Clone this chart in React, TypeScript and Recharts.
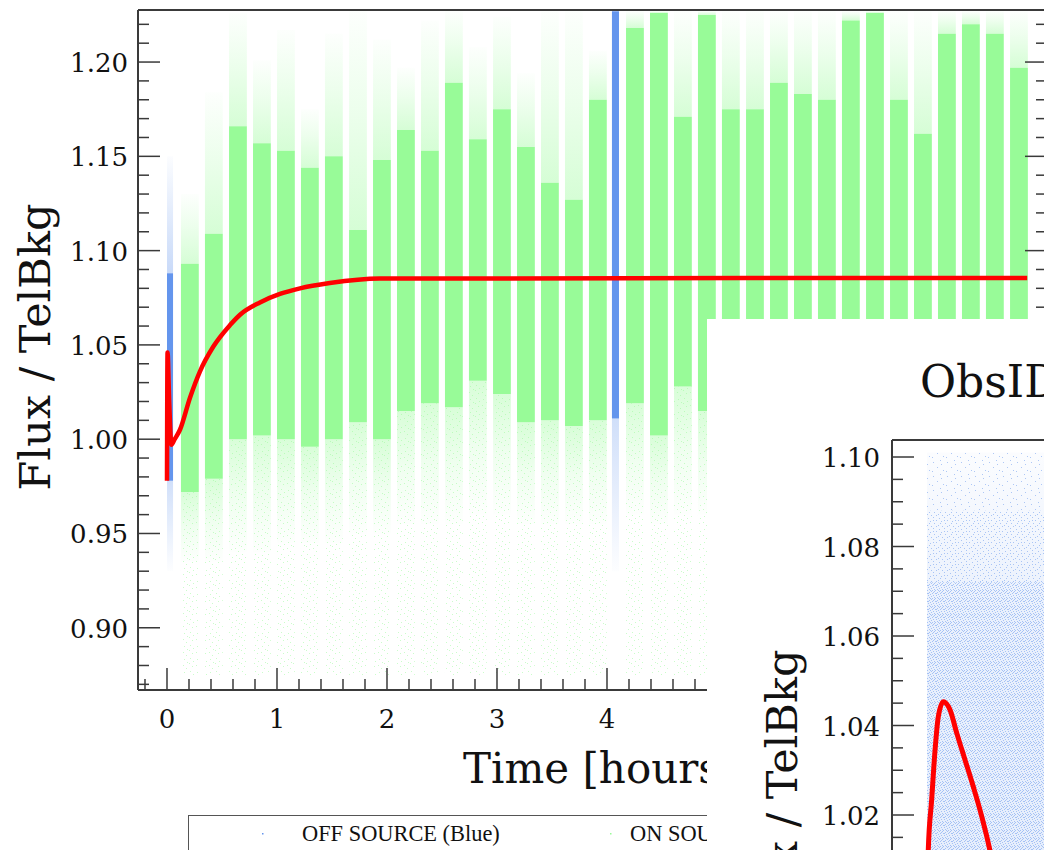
import React from 'react';
import { ComposedChart, XAxis, YAxis, Line, ReferenceArea } from 'recharts';

// ON SOURCE segments (green), start time in hours
const onStart = [0.127, 0.345, 0.564, 0.782, 1.0, 1.218, 1.436, 1.655, 1.873, 2.091, 2.309, 2.527, 2.745, 2.964, 3.182, 3.4, 3.618, 3.836,
  4.173, 4.391, 4.609, 4.827, 5.045, 5.264, 5.482, 5.7, 5.918, 6.136, 6.355, 6.573, 6.791, 7.009, 7.227, 7.445, 7.664];
const onLength = 0.162;
// dense part of each segment
const onCoreTop = [1.093, 1.109, 1.166, 1.157, 1.153, 1.144, 1.15, 1.111, 1.148, 1.164, 1.153, 1.189, 1.159, 1.175, 1.155, 1.136, 1.127, 1.18,
  1.218, 1.226, 1.171, 1.225, 1.175, 1.175, 1.189, 1.183, 1.18, 1.222, 1.226, 1.18, 1.162, 1.215, 1.22, 1.215, 1.197];
const onCoreBottom = [0.972, 0.979, 1.0, 1.002, 1.0, 0.996, 1.0, 1.009, 1.0, 1.015, 1.019, 1.017, 1.031, 1.024, 1.009, 1.01, 1.007, 1.01,
  1.019, 1.002, 1.028, 1.015, 1.02, 1.02, 1.02, 1.02, 1.02, 1.02, 1.02, 1.02, 1.02, 1.02, 1.02, 1.02, 1.02];
// where the scattered points thin out
const onFringeTop = [1.13, 1.184, 1.226, 1.201, 1.217, 1.175, 1.215, 1.227, 1.212, 1.197, 1.222, 1.227, 1.208, 1.224, 1.194, 1.227, 1.227, 1.206,
  1.227, 1.227, 1.227, 1.227, 1.227, 1.227, 1.227, 1.227, 1.227, 1.227, 1.227, 1.227, 1.227, 1.227, 1.227, 1.227, 1.227];
const onFringeBottom = [0.935, 0.935, 0.94, 0.94, 0.945, 0.945, 0.945, 0.95, 0.95, 0.955, 0.955, 0.955, 0.96, 0.96, 0.955, 0.955, 0.955, 0.955,
  0.96, 0.955, 0.96, 0.96, 0.96, 0.96, 0.96, 0.96, 0.96, 0.96, 0.96, 0.96, 0.96, 0.96, 0.96, 0.96, 0.96];
// lowest stray points
const onSparseBottom = 0.875;

// OFF SOURCE segments (blue)
const offStart = [0.0, 4.045];
const offEnd = [0.055, 4.109];
const offCoreTop = [1.088, 1.227];
const offCoreBottom = [0.978, 1.011];
const offFringeTop = [1.15, 1.227];
const offFringeBottom = [0.93, 0.93];

// fitted model, main panel
const fitTime = [0, 0.005, 0.02, 0.04, 0.07, 0.118, 0.209, 0.3, 0.42, 0.573, 0.664, 0.845, 1.027, 1.209, 1.48, 1.936, 7.82];
const fitValue = [0.978, 1.046, 1.02, 0.997, 1.0, 1.005, 1.022, 1.036, 1.049, 1.0605, 1.066, 1.0725, 1.077, 1.08, 1.0828, 1.0852, 1.0855];

// inset (first OFF SOURCE block, zoomed)
const insetTime = [0.0, 0.011, 0.04, 0.069, 0.097, 0.14, 0.197, 0.255, 0.326, 0.397, 0.47, 0.535, 0.57];
const insetValue = [1.0, 1.0122, 1.0234, 1.0345, 1.042, 1.0453, 1.0435, 1.0383, 1.0323, 1.0263, 1.0196, 1.0126, 1.008];
const insetScatter = { t0: 0.0, t1: 1.2, top: 1.101, upper: 1.088, mid: 1.072, bottom: 0.98 };

// ticks
const mainXMajor = [0, 1, 2, 3, 4, 5, 6, 7, 8];
const mainYMajor = [0.9, 0.95, 1.0, 1.05, 1.1, 1.15, 1.2];
const insetXMajor = [0, 1];
const insetYMajor = [0.98, 1.0, 1.02, 1.04, 1.06, 1.08, 1.1];

const GREEN = '#98FB98';
const BLUE = '#6495ED';
const AXIS = '#3a3a3a';
const FONT = '"DejaVu Serif", serif';
const LEGEND_FONT = '"Liberation Serif", serif';

// speckle tiles (pixel positions inside a tile)
const denseDots = [[0, 0], [3, 0], [6, 1], [1, 2], [4, 2], [7, 3], [2, 4], [5, 4], [0, 5], [3, 6], [6, 6], [1, 7], [4, 7], [7, 7], [5, 2], [2, 1]];
const mediumDots = [[1, 1], [6, 0], [9, 3], [3, 4], [7, 6], [0, 8], [4, 9], [9, 9], [2, 6], [6, 3]];
const sparseDots = [[2, 3], [9, 1], [6, 8], [12, 11], [1, 12], [10, 5]];
const greenDots = [[1, 2], [7, 0], [4, 5], [10, 3], [2, 9], [8, 8], [11, 11], [5, 12]];

function steps(from: number, to: number, step: number) {
  const out: number[] = [];
  const n = Math.round((to - from) / step);
  for (let i = 0; i <= n; i++) out.push(+(from + i * step).toFixed(4));
  return out;
}

const isIn = (v: number, arr: number[]) => arr.some((a) => Math.abs(a - v) < 1e-6);

function makeTick(side: string, majors: number[], showLabels: boolean, fmt: (v: number) => string, gap: number) {
  return (props: any) => {
    const { x, y, payload } = props;
    const major = isIn(payload.value, majors);
    const len = major ? 22 : 11;
    let line;
    let label = null;
    if (side === 'bottom') {
      line = <line x1={x} y1={y} x2={x} y2={y - len} stroke={AXIS} strokeWidth={1.5} />;
      if (major && showLabels)
        label = <text x={x} y={y + gap} textAnchor="middle" dominantBaseline="central" fontSize={26} fontFamily={FONT} fill="#111">{fmt(payload.value)}</text>;
    } else if (side === 'top') {
      line = <line x1={x} y1={y} x2={x} y2={y + len} stroke={AXIS} strokeWidth={1.5} />;
    } else if (side === 'left') {
      line = <line x1={x} y1={y} x2={x + len} y2={y} stroke={AXIS} strokeWidth={1.5} />;
      if (major && showLabels)
        label = <text x={x - gap} y={y + 1} textAnchor="end" dominantBaseline="central" fontSize={26} fontFamily={FONT} fill="#111">{fmt(payload.value)}</text>;
    } else {
      line = <line x1={x} y1={y} x2={x - len} y2={y} stroke={AXIS} strokeWidth={1.5} />;
    }
    return <g>{line}{label}</g>;
  };
}

const mainXTicks = steps(-0.2, 8.0, 0.2);
const mainYTicks = steps(0.87, 1.22, 0.01);
const insetXTicks = steps(-0.2, 1.2, 0.2);
const insetYTicks = steps(0.98, 1.1, 0.005);

const MAIN_X_DOMAIN: [number, number] = [-0.2636, 8.0];
const MAIN_Y_DOMAIN: [number, number] = [0.867, 1.2276];
const INSET_X_DOMAIN: [number, number] = [-0.3, 1.2];
const INSET_Y_DOMAIN: [number, number] = [0.98, 1.1038];

function DotPattern({ id, size, dots, color }: { id: string; size: number; dots: number[][]; color: string }) {
  return (
    <pattern id={id} width={size} height={size} patternUnits="userSpaceOnUse">
      {dots.map(([x, y], i) => <rect key={i} x={x} y={y} width={1} height={1} fill={color} shapeRendering="crispEdges" />)}
    </pattern>
  );
}

function Defs() {
  return (
    <svg width={0} height={0} style={{ position: 'absolute' }}>
      <defs>
        <linearGradient id="gUp" x1="0" y1="1" x2="0" y2="0">
          <stop offset="0" stopColor={GREEN} stopOpacity={0.8} />
          <stop offset="0.55" stopColor={GREEN} stopOpacity={0.35} />
          <stop offset="1" stopColor={GREEN} stopOpacity={0.04} />
        </linearGradient>
        <linearGradient id="gDown" x1="0" y1="0" x2="0" y2="1">
          <stop offset="0" stopColor={GREEN} stopOpacity={0.75} />
          <stop offset="0.5" stopColor={GREEN} stopOpacity={0.3} />
          <stop offset="1" stopColor={GREEN} stopOpacity={0.03} />
        </linearGradient>
        <linearGradient id="bUp" x1="0" y1="1" x2="0" y2="0">
          <stop offset="0" stopColor={BLUE} stopOpacity={0.7} />
          <stop offset="1" stopColor={BLUE} stopOpacity={0.05} />
        </linearGradient>
        <linearGradient id="bDown" x1="0" y1="0" x2="0" y2="1">
          <stop offset="0" stopColor={BLUE} stopOpacity={0.6} />
          <stop offset="1" stopColor={BLUE} stopOpacity={0.03} />
        </linearGradient>
        <linearGradient id="insetBlue" x1="0" y1="0" x2="0" y2="1">
          <stop offset="0" stopColor={BLUE} stopOpacity={0.05} />
          <stop offset="0.12" stopColor={BLUE} stopOpacity={0.15} />
          <stop offset="0.3" stopColor={BLUE} stopOpacity={0.28} />
          <stop offset="1" stopColor={BLUE} stopOpacity={0.34} />
        </linearGradient>
        <DotPattern id="blueDense" size={8} dots={denseDots} color={BLUE} />
        <DotPattern id="blueMedium" size={11} dots={mediumDots} color={BLUE} />
        <DotPattern id="blueSparse" size={14} dots={sparseDots} color={BLUE} />
        <DotPattern id="greenSparse" size={13} dots={greenDots} color={GREEN} />
      </defs>
    </svg>
  );
}

function MainChart() {
  const fit = fitTime.map((t, i) => ({ t, v: fitValue[i] }));
  const ref = { xAxisId: 'b', yAxisId: 'l', ifOverflow: 'hidden' as const, stroke: 'none' };
  return (
    <ComposedChart width={1100} height={760} margin={{ top: 0, right: 33, bottom: 0, left: 0 }}>
      <XAxis xAxisId="b" dataKey="t" type="number" domain={MAIN_X_DOMAIN} allowDataOverflow ticks={mainXTicks} interval={0}
        height={70} tickSize={0} tickMargin={0} tickLine={false} axisLine={{ stroke: AXIS, strokeWidth: 2 }}
        tick={makeTick('bottom', mainXMajor, true, (v) => String(v), 29)} />
      <XAxis xAxisId="t" orientation="top" type="number" domain={MAIN_X_DOMAIN} allowDataOverflow ticks={mainXTicks} interval={0}
        height={10} tickSize={0} tickMargin={0} tickLine={false} axisLine={{ stroke: AXIS, strokeWidth: 2 }}
        tick={makeTick('top', mainXMajor, false, String, 0)} />
      <YAxis yAxisId="l" type="number" domain={MAIN_Y_DOMAIN} allowDataOverflow ticks={mainYTicks} interval={0}
        width={138} tickSize={0} tickMargin={0} tickLine={false} axisLine={{ stroke: AXIS, strokeWidth: 2 }}
        tick={makeTick('left', mainYMajor, true, (v) => v.toFixed(2), 10)} />
      <YAxis yAxisId="r" orientation="right" type="number" domain={MAIN_Y_DOMAIN} allowDataOverflow ticks={mainYTicks} interval={0}
        width={20} tickSize={0} tickMargin={0} tickLine={false} axisLine={{ stroke: AXIS, strokeWidth: 2 }}
        tick={makeTick('right', mainYMajor, false, String, 0)} />

      {onStart.map((s, i) => (
        <ReferenceArea key={'os' + i} {...ref} x1={s} x2={s + onLength} y1={onSparseBottom} y2={onCoreBottom[i]} fill="url(#greenSparse)" />
      ))}
      {onStart.map((s, i) => (
        <ReferenceArea key={'oc' + i} {...ref} x1={s} x2={s + onLength} y1={onCoreBottom[i]} y2={onCoreTop[i]} fill={GREEN} fillOpacity={1} />
      ))}
      {onStart.map((s, i) => onFringeTop[i] > onCoreTop[i] ? (
        <ReferenceArea key={'ou' + i} {...ref} x1={s} x2={s + onLength} y1={onCoreTop[i]} y2={onFringeTop[i]} fill="url(#gUp)" />
      ) : null)}
      {onStart.map((s, i) => (
        <ReferenceArea key={'od' + i} {...ref} x1={s} x2={s + onLength} y1={onFringeBottom[i]} y2={onCoreBottom[i]} fill="url(#gDown)" />
      ))}
      {offStart.map((s, i) => (
        <ReferenceArea key={'fc' + i} {...ref} x1={s} x2={offEnd[i]} y1={offCoreBottom[i]} y2={offCoreTop[i]} fill={BLUE} fillOpacity={1} />
      ))}
      {offStart.map((s, i) => offFringeTop[i] > offCoreTop[i] ? (
        <ReferenceArea key={'fu' + i} {...ref} x1={s} x2={offEnd[i]} y1={offCoreTop[i]} y2={offFringeTop[i]} fill="url(#bUp)" />
      ) : null)}
      {offStart.map((s, i) => (
        <ReferenceArea key={'fd' + i} {...ref} x1={s} x2={offEnd[i]} y1={offFringeBottom[i]} y2={offCoreBottom[i]} fill="url(#bDown)" />
      ))}

      <Line xAxisId="b" yAxisId="l" data={fit} dataKey="v" type="monotone" stroke="#ff0000" strokeWidth={4.5}
        dot={false} activeDot={false} isAnimationActive={false} strokeLinejoin="round" />
    </ComposedChart>
  );
}

function InsetChart() {
  const fit = insetTime.map((t, i) => ({ t, v: insetValue[i] }));
  const ref = { xAxisId: 'b', yAxisId: 'l', ifOverflow: 'hidden' as const, stroke: 'none' };
  const s = insetScatter;
  return (
    <ComposedChart width={390} height={705} margin={{ top: 111, right: 10, bottom: 0, left: 0 }}>
      <XAxis xAxisId="b" dataKey="t" type="number" domain={INSET_X_DOMAIN} allowDataOverflow ticks={insetXTicks} interval={0}
        height={30} tickSize={0} tickMargin={0} tickLine={false} axisLine={{ stroke: AXIS, strokeWidth: 2 }}
        tick={makeTick('bottom', insetXMajor, false, String, 29)} />
      <XAxis xAxisId="t" orientation="top" type="number" domain={INSET_X_DOMAIN} allowDataOverflow ticks={insetXTicks} interval={0}
        height={10} tickSize={0} tickMargin={0} tickLine={false} axisLine={{ stroke: AXIS, strokeWidth: 2 }}
        tick={makeTick('top', insetXMajor, false, String, 0)} />
      <YAxis yAxisId="l" type="number" domain={INSET_Y_DOMAIN} allowDataOverflow ticks={insetYTicks} interval={0}
        width={185} tickSize={0} tickMargin={0} tickLine={false} axisLine={{ stroke: AXIS, strokeWidth: 2 }}
        tick={makeTick('left', insetYMajor, true, (v) => v.toFixed(2), 12)} />
      <YAxis yAxisId="r" orientation="right" type="number" domain={INSET_Y_DOMAIN} allowDataOverflow ticks={insetYTicks} interval={0}
        width={20} tickSize={0} tickMargin={0} tickLine={false} axisLine={{ stroke: AXIS, strokeWidth: 2 }}
        tick={makeTick('right', insetYMajor, false, String, 0)} />
      <ReferenceArea {...ref} x1={s.t0} x2={s.t1} y1={s.bottom} y2={s.top} fill="url(#insetBlue)" />
      <ReferenceArea {...ref} x1={s.t0} x2={s.t1} y1={s.upper} y2={s.top} fill="url(#blueSparse)" />
      <ReferenceArea {...ref} x1={s.t0} x2={s.t1} y1={s.mid} y2={s.upper} fill="url(#blueMedium)" />
      <ReferenceArea {...ref} x1={s.t0} x2={s.t1} y1={s.bottom} y2={s.mid} fill="url(#blueDense)" />
      <Line xAxisId="b" yAxisId="l" data={fit} dataKey="v" type="monotone" stroke="#ff0000" strokeWidth={5}
        dot={false} activeDot={false} isAnimationActive={false} />
    </ComposedChart>
  );
}

export default function App() {
  return (
    <div style={{ position: 'relative', width: 1044, height: 850, overflow: 'hidden', background: '#fff', fontFamily: FONT }}>
      <style>{'body{margin:0;overflow:hidden;background:#fff}'}</style>
      <Defs />
      <div style={{ position: 'absolute', left: 0, top: 0 }}>
        <MainChart />
      </div>
      <svg width={1044} height={850} style={{ position: 'absolute', left: 0, top: 0, pointerEvents: 'none' }}>
        <text x={50} y={347} transform="rotate(-90 50 347)" textAnchor="middle" fontSize={43} fontFamily={FONT} fill="#111">Flux / TelBkg</text>
        <text x={463} y={783} fontSize={42} fontFamily={FONT} fill="#111">Time [hours]</text>
        <rect x={188.5} y={815.5} width={800} height={100} fill="none" stroke="#555" strokeWidth={1} />
        <rect x={262} y={833} width={1.5} height={1.5} fill={BLUE} />
        <text x={302} y={841} fontSize={22.4} fontFamily={LEGEND_FONT} fill="#111">OFF SOURCE (Blue)</text>
        <rect x={610} y={833} width={1.5} height={1.5} fill={GREEN} />
        <text x={630} y={841} fontSize={22.4} fontFamily={LEGEND_FONT} fill="#111">ON SOURCE (Green)</text>
      </svg>
      <div style={{ position: 'absolute', left: 707, top: 319, width: 400, height: 600, background: '#fff' }}>
        <InsetChart />
        <svg width={400} height={600} style={{ position: 'absolute', left: 0, top: 0, pointerEvents: 'none' }}>
          <text x={213} y={78} fontSize={44} fontFamily={FONT} fill="#111">ObsID</text>
          <text x={90} y={474} transform="rotate(-90 90 474)" textAnchor="middle" fontSize={43} fontFamily={FONT} fill="#111">Flux / TelBkg</text>
        </svg>
      </div>
    </div>
  );
}
